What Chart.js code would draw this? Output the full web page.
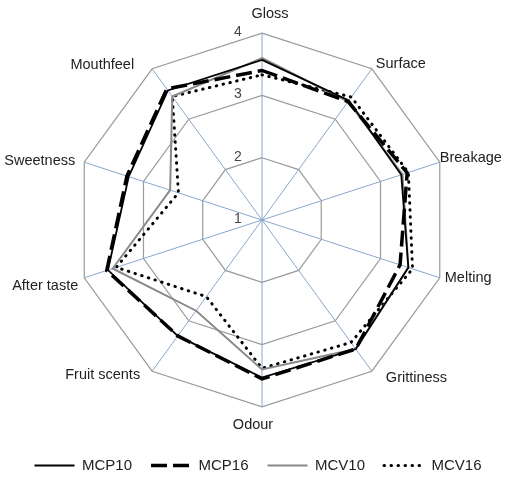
<!DOCTYPE html>
<html>
<head>
<meta charset="utf-8">
<script src="https://cdn.jsdelivr.net/npm/chart.js@4.4.0/dist/chart.umd.min.js"></script>
<style>
  body { margin: 0; background: #fff; }
  #radar { display: block; }
</style>
</head>
<body>
<canvas id="radar" width="509" height="485"></canvas>
<script>
// ----- dados -----
const categories = ['Gloss', 'Surface', 'Breakage', 'Melting', 'Grittiness', 'Odour', 'Fruit scents', 'After taste', 'Sweetness', 'Mouthfeel'];
const mcp10 = [3.57, 3.37, 3.35, 3.47, 3.56, 3.53, 3.30, 3.60, 3.25, 3.57];
const mcp16 = [3.40, 3.35, 3.45, 3.33, 3.56, 3.55, 3.30, 3.62, 3.28, 3.60];
const mcv10 = [3.60, 3.35, 3.37, 3.47, 3.56, 3.40, 2.80, 3.52, 2.55, 3.45];
const mcv16 = [3.33, 3.44, 3.47, 3.54, 3.43, 3.38, 2.52, 3.46, 2.41, 3.45];
const tickLabels = [1, 2, 3, 4];

const fontFamily = "'Liberation Sans', Arial, sans-serif";

// where each category name sits relative to its outer vertex (Excel-like placement)
const labelPlacement = [
  ['center', 8, -19],
  ['left', 4, -5],
  ['left', 0, -4],
  ['left', 5, 0],
  ['left', 14, 7],
  ['center', -9, 18],
  ['right', -12, 4],
  ['right', -6, 8],
  ['right', -9, -1],
  ['right', -18, -4]
];

// tick labels + category labels drawn by hand (chart.js skips the first tick)
const labelPlugin = {
  id: 'radarText',
  afterDraw(chart) {
    const scale = chart.scales.r;
    const ctx = chart.ctx;
    ctx.save();
    ctx.textBaseline = 'middle';

    ctx.font = '14px ' + fontFamily;
    ctx.fillStyle = '#444';
    ctx.textAlign = 'center';
    tickLabels.forEach(function(v) {
      const d = scale.getDistanceFromCenterForValue(v);
      ctx.fillText(String(v), scale.xCenter - 24, scale.yCenter - d - 1);
    });

    ctx.font = '14.5px ' + fontFamily;
    ctx.fillStyle = '#222';
    categories.forEach(function(name, i) {
      const p = scale.getPointPosition(i, scale.drawingArea);
      const pl = labelPlacement[i];
      ctx.textAlign = pl[0];
      ctx.fillText(name, p.x + pl[1], p.y + pl[2]);
    });
    ctx.restore();
  }
};

let ctx = document.getElementById('radar');

let dados = {
  labels: categories,
  datasets: [
    { label: 'MCP10', data: mcp10, borderColor: '#000', borderWidth: 1.8, borderDash: [] },
    { label: 'MCP16', data: mcp16, borderColor: '#000', borderWidth: 3.5, borderDash: [16, 6] },
    { label: 'MCV10', data: mcv10, borderColor: '#8a8a8a', borderWidth: 2, borderDash: [] },
    { label: 'MCV16', data: mcv16, borderColor: '#000', borderWidth: 3, borderDash: [0.5, 6.5], borderCapStyle: 'round' }
  ].map(function(ds) {
    ds.fill = false;
    ds.pointRadius = 0;
    ds.pointHoverRadius = 0;
    ds.tension = 0;
    return ds;
  })
};

let opcoes = {
  responsive: false,
  animation: false,
  devicePixelRatio: 1,
  layout: { padding: { top: 3, bottom: 2, left: 7, right: 0 } },
  scales: {
    r: {
      min: 1,
      max: 4,
      ticks: { stepSize: 1, display: false },
      grid: { circular: false, color: '#9a9a9a', lineWidth: 1.2 },
      angleLines: { color: '#8aa6cc', lineWidth: 1 },
      // kept for the layout fit only, text is drawn by the plugin
      pointLabels: { font: { size: 14, family: fontFamily }, color: 'rgba(0,0,0,0)', padding: 5 }
    }
  },
  plugins: {
    tooltip: { enabled: false },
    legend: {
      position: 'bottom',
      labels: {
        usePointStyle: true,
        pointStyleWidth: 40,
        padding: 19,
        color: '#222',
        font: { size: 15, family: fontFamily },
        generateLabels: function(chart) {
          return chart.data.datasets.map(function(ds, i) {
            return {
              text: ds.label,
              datasetIndex: i,
              pointStyle: 'line',
              strokeStyle: ds.borderColor,
              fillStyle: ds.borderColor,
              lineWidth: ds.borderWidth,
              lineDash: ds.borderDash,
              lineCap: ds.borderCapStyle || 'butt',
              fontColor: '#222'
            };
          });
        }
      }
    }
  }
};

let radarChart = new Chart(ctx, {
  type: 'radar',
  data: dados,
  options: opcoes,
  plugins: [labelPlugin]
});
</script>
</body>
</html>
